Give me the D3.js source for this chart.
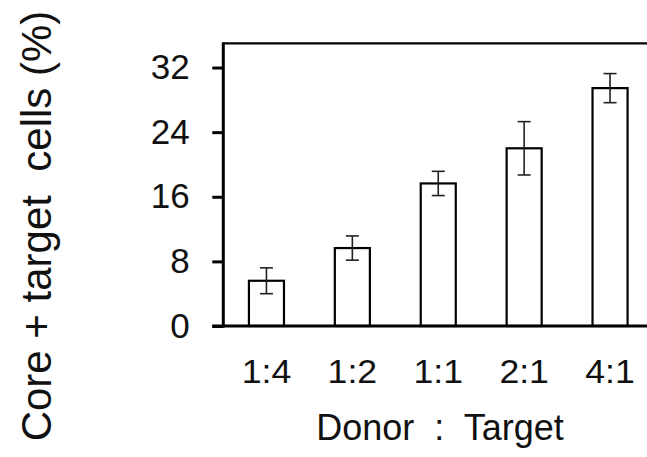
<!DOCTYPE html>
<html>
<head>
<meta charset="utf-8">
<script src="https://cdn.jsdelivr.net/npm/d3@7"></script>
<style>
  html, body { margin: 0; padding: 0; background: #fff; }
  svg { display: block; }
  text { font-family: "Liberation Sans", Arial, sans-serif; fill: #111; }
</style>
</head>
<body>
<svg id="chart" width="647" height="457"></svg>
<script>
const categories = ["1:4", "1:2", "1:1", "2:1", "4:1"];
const means = [5.6, 9.65, 17.65, 22.0, 29.45];
const errors = [1.6, 1.5, 1.5, 3.3, 1.8];
const yTicks = [0, 8, 16, 24, 32];
const yLabel = "Core + target  cells (%)";
const xLabel = "Donor  :  Target";

const svg = d3.select("#chart");
const W = 647, H = 457;
const plotLeft = 223.3, plotTop = 43.3, plotBottom = 326;

const x = d3.scaleBand().domain(categories).range([223.5, 653]).paddingInner(0.592).paddingOuter(0.296);
const y = d3.scaleLinear().domain([0, 35]).range([plotBottom, plotTop]);

// Y axis ticks and labels
const yAxis = d3.axisLeft(y).tickValues(yTicks).tickSize(11).tickPadding(22.5).tickFormat(d3.format("d"));
const gy = svg.append("g").attr("transform", `translate(${plotLeft},0)`).call(yAxis);
gy.select(".domain").remove();
gy.selectAll(".tick line").attr("stroke", "#000").attr("stroke-width", 3);
gy.selectAll(".tick text").attr("font-size", 35).attr("fill", "#111")
  .style("font-family", '"Liberation Sans", Arial, sans-serif');

// Bars
svg.append("g").selectAll("rect").data(categories).join("rect")
  .attr("x", d => x(d))
  .attr("y", (d, i) => y(means[i]))
  .attr("width", x.bandwidth())
  .attr("height", (d, i) => y(0) - y(means[i]))
  .attr("fill", "#fff").attr("stroke", "#000").attr("stroke-width", 2.2);

// Error bars
const eg = svg.append("g").attr("stroke", "#222").attr("stroke-width", 1.6);
const cap = 6.5;
categories.forEach((c, i) => {
  const cx = x(c) + x.bandwidth() / 2;
  const hi = y(means[i] + errors[i]), lo = y(means[i] - errors[i]);
  eg.append("line").attr("x1", cx).attr("x2", cx).attr("y1", hi).attr("y2", lo);
  eg.append("line").attr("x1", cx - cap).attr("x2", cx + cap).attr("y1", hi).attr("y2", hi);
  eg.append("line").attr("x1", cx - cap).attr("x2", cx + cap).attr("y1", lo).attr("y2", lo);
});

// Frame: left axis, bottom axis, top border
svg.append("line").attr("x1", plotLeft).attr("x2", plotLeft).attr("y1", plotTop - 1).attr("y2", plotBottom + 1.5)
  .attr("stroke", "#000").attr("stroke-width", 3);
svg.append("line").attr("x1", 212.3).attr("x2", W).attr("y1", plotBottom).attr("y2", plotBottom)
  .attr("stroke", "#000").attr("stroke-width", 3);
svg.append("line").attr("x1", plotLeft).attr("x2", W).attr("y1", plotTop).attr("y2", plotTop)
  .attr("stroke", "#000").attr("stroke-width", 2.2);

// X tick labels
svg.append("g").selectAll("text").data(categories).join("text")
  .attr("transform", d => `translate(${x(d) + x.bandwidth() / 2},383.3) scale(1.08,1)`)
  .attr("text-anchor", "middle")
  .attr("font-size", 33)
  .text(d => d);

// Axis titles
svg.append("text").attr("x", 440).attr("y", 440).attr("text-anchor", "middle")
  .attr("font-size", 36).style("white-space", "pre").text(xLabel);

svg.append("text").attr("transform", "translate(51,226) rotate(-90)")
  .attr("text-anchor", "middle").attr("font-size", 42)
  .style("white-space", "pre").text(yLabel);
</script>
</body>
</html>
